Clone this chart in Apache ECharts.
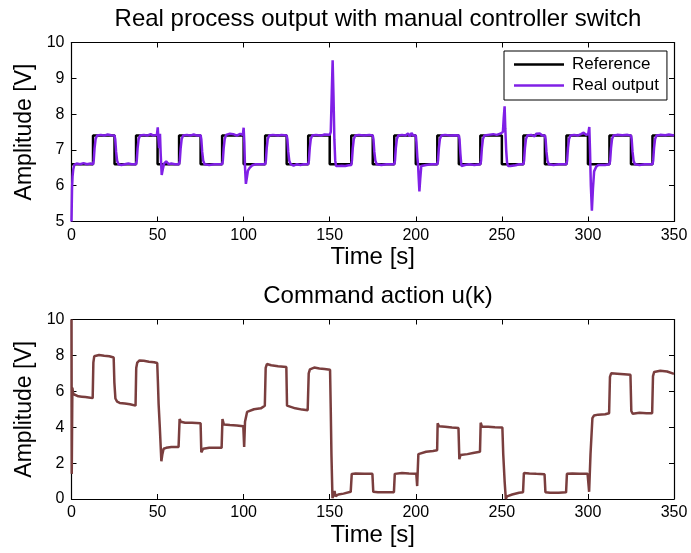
<!DOCTYPE html>
<html>
<head>
<meta charset="utf-8">
<script src="https://cdn.jsdelivr.net/npm/echarts@6/dist/echarts.min.js"></script>
<style>
  html, body { margin: 0; padding: 0; background: #fff; }
  #chart { width: 691px; height: 553px; }
</style>
</head>
<body>
<div id="chart"></div>
<script>
// Reference set-point: level held from each switching instant [s, V]
const referenceSteps = [
  [0, 6.6], [12.5, 7.4], [25, 6.6], [37.5, 7.4], [50, 6.6], [62.5, 7.4], [75, 6.6],
  [87.5, 7.4], [100, 6.6], [112.5, 7.4], [125, 6.6], [137.5, 7.4], [150, 6.6],
  [162.5, 7.4], [175, 6.6], [187.5, 7.4], [200, 6.6], [212.5, 7.4], [225, 6.6],
  [237.5, 7.4], [250, 6.6], [262.5, 7.4], [275, 6.6], [287.5, 7.4], [300, 6.6],
  [312.5, 7.4], [325, 6.6], [337.5, 7.4], [350, 7.4]
];

// Measured process output [s, V]
const realOutput = [
  [0, 5.0], [0.3, 5.9], [0.6, 6.25], [1.0, 6.45], [1.6, 6.58], [3, 6.62], [5, 6.6], [7, 6.63], [9, 6.6], [11, 6.62], [12.5, 6.6],
  [12.9, 6.7], [13.4, 7.05], [14, 7.3], [14.8, 7.4], [17, 7.42], [19, 7.4], [21, 7.43], [23, 7.41], [25, 7.4],
  [25.4, 7.3], [25.9, 6.95], [26.5, 6.7], [27.3, 6.6], [29, 6.58], [31, 6.6], [32, 6.55], [33, 6.62], [34, 6.57], [35, 6.6], [37.5, 6.6],
  [37.9, 6.7], [38.4, 7.05], [39, 7.3], [39.8, 7.4], [42, 7.42], [44, 7.4], [46, 7.44], [47.5, 7.4], [48.5, 7.45], [49.6, 7.42],
  [50.1, 7.63], [50.5, 7.3], [50.9, 7.05], [51.4, 7.45], [51.8, 6.9], [52.4, 6.3], [53.0, 6.45], [53.8, 6.62], [55, 6.68], [56.5, 6.6], [58, 6.62], [60, 6.6], [62.5, 6.6],
  [62.9, 6.7], [63.4, 7.05], [64, 7.3], [64.8, 7.4], [67, 7.42], [69, 7.4], [71, 7.43], [73, 7.4], [75, 7.41],
  [75.4, 7.3], [75.9, 6.95], [76.5, 6.7], [77.3, 6.6], [80, 6.58], [83, 6.6], [85, 6.6], [87.5, 6.6],
  [87.9, 6.7], [88.4, 7.05], [89, 7.3], [89.8, 7.42], [92, 7.45], [94, 7.44], [96, 7.4], [98, 7.45], [99.5, 7.42],
  [100, 7.62], [100.4, 7.2], [100.8, 6.5], [101.3, 6.05], [101.8, 6.2], [102.5, 6.42], [103.5, 6.5], [105, 6.57], [107, 6.6], [110, 6.6], [112.5, 6.6],
  [112.9, 6.7], [113.4, 7.05], [114, 7.3], [114.8, 7.4], [117, 7.42], [120, 7.4], [122, 7.42], [125, 7.4],
  [125.4, 7.3], [125.9, 6.95], [126.5, 6.7], [127.3, 6.6], [129, 6.56], [131, 6.6], [133, 6.58], [135, 6.6], [137.5, 6.6],
  [137.9, 6.7], [138.4, 7.05], [139, 7.3], [139.8, 7.4], [142, 7.42], [145, 7.4], [147, 7.43], [150, 7.42],
  [150.6, 7.5], [151.2, 8.6], [151.7, 9.5], [152.2, 8.5], [152.7, 7.3], [153.2, 6.7], [153.7, 6.55], [155, 6.55], [157, 6.56], [159, 6.55], [161, 6.57], [162.5, 6.58],
  [162.9, 6.7], [163.4, 7.05], [164, 7.3], [164.8, 7.4], [167, 7.42], [170, 7.4], [173, 7.42], [175, 7.4],
  [175.4, 7.3], [175.9, 6.95], [176.5, 6.7], [177.3, 6.6], [180, 6.58], [183, 6.6], [187.5, 6.6],
  [187.9, 6.7], [188.4, 7.05], [189, 7.3], [189.8, 7.4], [192, 7.42], [194, 7.4], [195.5, 7.46], [196.5, 7.38], [197.5, 7.47], [198.5, 7.4], [200, 7.4],
  [200.4, 7.2], [200.9, 6.8], [201.3, 6.6], [201.7, 6.2], [202.1, 5.84], [202.6, 6.2], [203.2, 6.55], [204, 6.6], [206, 6.58], [209, 6.6], [212.5, 6.6],
  [212.9, 6.7], [213.4, 7.05], [214, 7.3], [214.8, 7.4], [217, 7.42], [220, 7.4], [223, 7.41], [225, 7.4],
  [225.4, 7.3], [225.9, 6.9], [226.5, 6.55], [227.3, 6.52], [228.5, 6.58], [231, 6.6], [234, 6.58], [237.5, 6.6],
  [237.9, 6.7], [238.4, 7.05], [239, 7.3], [239.8, 7.4], [242, 7.42], [245, 7.44], [247, 7.42], [249, 7.45], [250, 7.42],
  [250.6, 7.5], [251.1, 7.9], [251.6, 8.22], [252, 7.6], [252.5, 7.0], [253, 6.65], [253.6, 6.55], [255, 6.55], [258, 6.57], [260, 6.6], [262.5, 6.6],
  [262.9, 6.7], [263.4, 7.05], [264, 7.3], [264.8, 7.4], [267, 7.42], [269, 7.38], [270, 7.45], [271, 7.4], [272, 7.46], [273.5, 7.4], [275, 7.4],
  [275.4, 7.3], [275.9, 6.95], [276.5, 6.7], [277.3, 6.6], [280, 6.58], [283, 6.6], [287.5, 6.6],
  [287.9, 6.7], [288.4, 7.05], [289, 7.3], [289.8, 7.4], [292, 7.42], [294, 7.4], [296, 7.44], [297.5, 7.48], [299, 7.42], [300.2, 7.45],
  [300.8, 7.64], [301.2, 7.0], [301.7, 6.0], [302.3, 5.3], [302.9, 5.9], [303.6, 6.4], [304.8, 6.53], [306, 6.58], [310, 6.58], [312.5, 6.6],
  [312.9, 6.7], [313.4, 7.05], [314, 7.3], [314.8, 7.4], [317, 7.42], [320, 7.41], [323, 7.42], [325, 7.4],
  [325.4, 7.3], [325.9, 6.95], [326.5, 6.7], [327.3, 6.6], [330, 6.58], [333, 6.6], [337.5, 6.6],
  [337.9, 6.7], [338.4, 7.05], [339, 7.3], [339.8, 7.4], [342, 7.42], [345, 7.41], [347, 7.43], [350, 7.4]
];

// Command action u(k) [s, V]
const commandAction = [
  [0, 10], [0.15, 1.4], [0.5, 6.2], [1, 5.85], [2, 5.75], [4, 5.72], [6, 5.7], [8, 5.68], [10, 5.66], [12.3, 5.62],
  [12.7, 7.6], [13.2, 7.95], [14, 8.05], [16, 8.02], [19, 7.98], [22, 7.95], [24.5, 7.88],
  [24.9, 6.5], [25.5, 5.6], [26.5, 5.42], [28, 5.35], [31, 5.32], [34, 5.28], [37.2, 5.2],
  [37.6, 7.3], [38.2, 7.6], [39.5, 7.72], [42, 7.7], [45, 7.65], [48, 7.62], [49.8, 7.58],
  [50.2, 6.5], [50.6, 5.3], [51.3, 4.0], [52.2, 2.1], [52.8, 2.5], [53.5, 2.8], [55, 2.85], [58, 2.9], [62.2, 2.9],
  [62.8, 4.45], [63.5, 4.3], [66, 4.25], [70, 4.25], [75, 4.22],
  [75.4, 2.6], [76.5, 2.8], [80, 2.85], [84, 2.85], [87.2, 2.85],
  [87.7, 4.45], [88.5, 4.15], [92, 4.12], [96, 4.1], [99.8, 4.05],
  [100.3, 2.9], [100.8, 4.3], [102, 4.85], [103, 4.95], [106, 5.0], [110, 5.05], [112.3, 5.2],
  [112.8, 7.3], [113.5, 7.52], [116, 7.45], [120, 7.4], [124.8, 7.35],
  [125.2, 5.2], [126, 5.1], [130, 5.05], [134, 4.98], [137.2, 4.95],
  [137.8, 7.0], [138.5, 7.22], [141, 7.32], [144, 7.27], [147, 7.24], [150.2, 7.2],
  [150.6, 5.0], [151, 2.5], [151.6, 0.05], [152.2, 0.2], [152.8, 0.45], [153.4, 0.15], [155, 0.25], [158, 0.3], [162.2, 0.4],
  [162.8, 1.4], [165, 1.42], [170, 1.4], [174.8, 1.4],
  [175.3, 0.4], [178, 0.37], [183, 0.37], [187.3, 0.38],
  [187.8, 1.4], [192, 1.45], [196, 1.42], [200.3, 1.4],
  [200.8, 0.72], [201.5, 2.5], [202.5, 2.58], [206, 2.63], [210, 2.68], [212.4, 2.72],
  [212.7, 4.22], [213.5, 4.05], [217, 4.02], [221, 3.98], [224.8, 3.95],
  [225.3, 2.22], [226, 2.45], [230, 2.5], [234, 2.58], [237.3, 2.63],
  [237.7, 4.25], [238.5, 4.02], [242, 4.02], [246, 4.0], [250.3, 3.98],
  [250.8, 2.5], [251.6, 1.0], [252.3, 0.0], [253, 0.15], [256, 0.25], [260, 0.35], [262.3, 0.38],
  [262.8, 1.45], [266, 1.42], [270, 1.4], [274.8, 1.38],
  [275.3, 0.38], [278, 0.35], [283, 0.35], [287.3, 0.37],
  [287.8, 1.4], [291, 1.42], [295, 1.4], [299.8, 1.4],
  [300.7, 0.4], [301.5, 2.5], [302.6, 4.5], [303.5, 4.65], [306, 4.7], [310, 4.72], [312.3, 4.78],
  [312.8, 6.8], [313.5, 7.0], [317, 6.98], [321, 6.95], [324.7, 6.92],
  [325.2, 4.9], [326, 4.75], [330, 4.8], [334, 4.78], [337.3, 4.78],
  [337.8, 6.85], [338.5, 7.08], [342, 7.14], [346, 7.1], [350, 6.97]
];

// Axis ranges and tick spacing
const timeTicks = [0, 50, 100, 150, 200, 250, 300, 350];
const outputTicks = [5, 6, 7, 8, 9, 10];
const commandTicks = [0, 2, 4, 6, 8, 10];

const FONT = 'Liberation Sans, Arial, Helvetica, sans-serif';
const chart = echarts.init(document.getElementById('chart'), null, { renderer: 'canvas' });

const axisLine = { show: true, onZero: false, lineStyle: { color: '#000', width: 1.2 } };
const tickIn = { show: true, inside: true, length: 5, lineStyle: { color: '#000', width: 1 } };
const tickLabel = { color: '#000', fontSize: 16, fontFamily: FONT };
const nameStyle = { color: '#000', fontSize: 23, fontFamily: FONT };

function xAxes(grid, ticks) {
  const base = { type: 'value', gridIndex: grid, min: ticks[0], max: ticks[ticks.length - 1],
    interval: ticks[1] - ticks[0], splitLine: { show: false }, axisLine, axisTick: tickIn };
  return [
    Object.assign({}, base, { position: 'bottom', axisLabel: Object.assign({ margin: 6 }, tickLabel),
      name: 'Time [s]', nameLocation: 'middle', nameGap: 24,
      nameTextStyle: Object.assign({}, nameStyle, { fontSize: 24 }) }),
    Object.assign({}, base, { position: 'top', axisLabel: { show: false } })
  ];
}
function yAxes(grid, ticks) {
  const base = { type: 'value', gridIndex: grid, min: ticks[0], max: ticks[ticks.length - 1],
    interval: ticks[1] - ticks[0], splitLine: { show: false }, axisLine, axisTick: tickIn };
  return [
    Object.assign({}, base, { position: 'left', axisLabel: Object.assign({ margin: 7 }, tickLabel),
      name: 'Amplitude [V]', nameLocation: 'middle', nameGap: 30, nameTextStyle: nameStyle }),
    Object.assign({}, base, { position: 'right', axisLabel: { show: false } })
  ];
}

const titleStyle = { color: '#000', fontSize: 24, fontWeight: 'normal', fontFamily: FONT };

chart.setOption({
  animation: false,
  backgroundColor: '#fff',
  title: [
    { text: 'Real process output with manual controller switch', left: 373, top: 2, textAlign: 'center', textStyle: titleStyle },
    { text: 'Command action u(k)', left: 373, top: 279, textAlign: 'center', textStyle: titleStyle }
  ],
  legend: {
    left: 504, top: 51, orient: 'vertical', icon: 'rect', itemWidth: 50, itemHeight: 2.5, itemGap: 4,
    padding: [5, 8, 6, 10], borderColor: '#000', borderWidth: 1, backgroundColor: '#fff',
    textStyle: { color: '#000', fontSize: 17, fontFamily: FONT, padding: [0, 0, 0, 3] },
    data: ['Reference', 'Real output']
  },
  grid: [
    { left: 71.5, right: 17, top: 42.5, height: 179 },
    { left: 71.5, right: 17, top: 319.5, height: 179.5 }
  ],
  xAxis: [...xAxes(0, timeTicks), ...xAxes(1, timeTicks)],
  yAxis: [...yAxes(0, outputTicks), ...yAxes(1, commandTicks)],
  series: [
    { name: 'Reference', type: 'line', xAxisIndex: 0, yAxisIndex: 0, step: 'end', data: referenceSteps,
      showSymbol: false, symbol: 'none', lineStyle: { color: '#000', width: 2.5 }, itemStyle: { color: '#000' } },
    { name: 'Real output', type: 'line', xAxisIndex: 0, yAxisIndex: 0, data: realOutput,
      showSymbol: false, symbol: 'none', lineStyle: { color: '#8020e6', width: 2.5 }, itemStyle: { color: '#8020e6' } },
    { name: 'u(k)', type: 'line', xAxisIndex: 2, yAxisIndex: 2, data: commandAction,
      showSymbol: false, symbol: 'none', lineStyle: { color: '#7a3e3e', width: 2.5 }, itemStyle: { color: '#7a3e3e' } }
  ]
});
</script>
</body>
</html>
